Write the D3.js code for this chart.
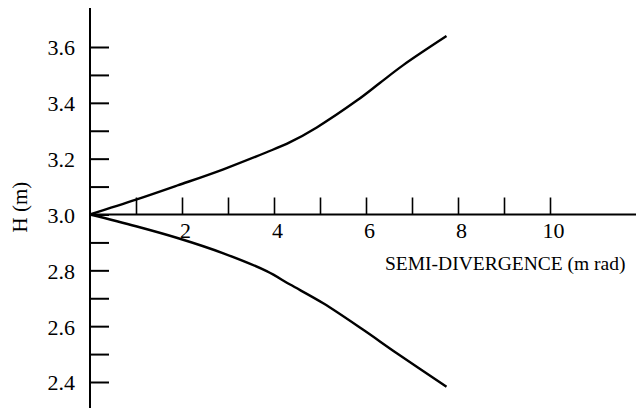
<!DOCTYPE html>
<html>
<head>
<meta charset="utf-8">
<script src="https://cdn.jsdelivr.net/npm/d3@7"></script>
<style>
  body { margin: 0; background: #fff; }
  svg { display: block; }
  svg text { font-family: "Liberation Serif", "Times New Roman", Times, serif; fill: #000; }
  .axis path { display: none; }
  .axis line { stroke: #000; }
</style>
</head>
<body>
<div id="container"></div>
<script>
const width = 639,
    height = 408;

// semi-divergence (m rad) vs height H (m), upper and lower branches
const upperX = [0, 1.0, 1.92, 2.9, 3.84, 4.35, 4.93, 5.8, 6.3, 6.81, 7.75];
const upperH = [3.0, 3.053, 3.105, 3.162, 3.223, 3.259, 3.312, 3.408, 3.471, 3.535, 3.639];
const lowerX = [0, 1.0, 1.92, 2.9, 3.84, 4.35, 5.07, 5.94, 6.67, 7.75];
const lowerH = [3.0, 2.958, 2.915, 2.861, 2.797, 2.749, 2.682, 2.587, 2.503, 2.383];

const xTicks = [1, 2, 3, 4, 5, 6, 7, 8, 9, 10];
const xLabels = [2, 4, 6, 8, 10];
const yTicks = [2.4, 2.5, 2.6, 2.7, 2.8, 2.9, 3.0, 3.1, 3.2, 3.3, 3.4, 3.5, 3.6];
const yLabels = [2.4, 2.6, 2.8, 3.0, 3.2, 3.4, 3.6];

const xScale = d3.scaleLinear().domain([0, 10]).range([90, 550]);
const yScale = d3.scaleLinear().domain([2.4, 3.6]).range([382, 47]);

const svg = d3.select('#container')
    .append('svg')
    .attr('width', width)
    .attr('height', height);

const x0 = xScale(0), y0 = yScale(3.0);

// y axis
svg.append('line')
    .attr('x1', x0).attr('x2', x0)
    .attr('y1', 8).attr('y2', height)
    .attr('stroke', '#000')
    .attr('stroke-width', 2);

svg.append('g')
    .attr('class', 'axis')
    .attr('transform', `translate(${x0},0)`)
    .call(d3.axisLeft(yScale)
        .tickValues(yTicks)
        .tickSize(-19)
        .tickPadding(15)
        .tickFormat(d => yLabels.some(v => Math.abs(v - d) < 1e-9) ? d3.format('.1f')(d) : ''))
    .call(g => g.attr('font-family', null).attr('font-size', null))
    .call(g => g.selectAll('line').attr('stroke-width', 2))
    .call(g => g.selectAll('text')
        .style('font-size', '22px')
        .attr('dy', '0.36em'));

// x axis
svg.append('line')
    .attr('x1', x0).attr('x2', 636)
    .attr('y1', y0).attr('y2', y0)
    .attr('stroke', '#000')
    .attr('stroke-width', 2);

svg.append('g')
    .attr('class', 'axis')
    .attr('transform', `translate(0,${y0})`)
    .call(d3.axisBottom(xScale)
        .tickValues(xTicks)
        .tickSize(-17)
        .tickPadding(8)
        .tickFormat(d => xLabels.includes(d) ? d : ''))
    .call(g => g.attr('font-family', null).attr('font-size', null))
    .call(g => g.selectAll('line').attr('stroke-width', 1.6))
    .call(g => g.selectAll('text')
        .style('font-size', '22px')
        .attr('x', 3));

// axis titles
svg.append('text')
    .attr('x', 385)
    .attr('y', 270)
    .style('font-size', '19.5px')
    .text('SEMI-DIVERGENCE (m rad)');

svg.append('text')
    .attr('transform', 'translate(27,207) rotate(-90)')
    .attr('text-anchor', 'middle')
    .style('font-size', '21px')
    .text('H (m)');

// curves
const line = d3.line()
    .x(d => xScale(d[0]))
    .y(d => yScale(d[1]))
    .curve(d3.curveCatmullRom.alpha(0.5));

svg.append('path')
    .datum(upperX.map((x, i) => [x, upperH[i]]))
    .attr('d', line)
    .attr('fill', 'none')
    .attr('stroke', '#000')
    .attr('stroke-width', 2.4);

svg.append('path')
    .datum(lowerX.map((x, i) => [x, lowerH[i]]))
    .attr('d', line)
    .attr('fill', 'none')
    .attr('stroke', '#000')
    .attr('stroke-width', 2.4);
</script>
</body>
</html>
